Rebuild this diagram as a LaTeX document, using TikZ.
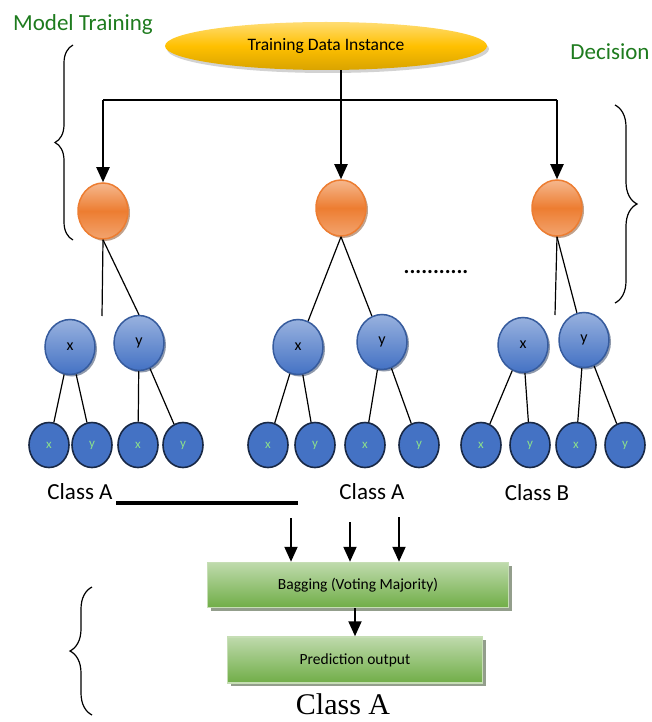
\documentclass[tikz,border=0pt]{standalone}
\usepackage{fontspec}
\setmainfont{Carlito}
\newfontfamily\timesfont{Liberation Serif}
\usetikzlibrary{arrows.meta,shapes.geometric,shadows,decorations.pathreplacing}
\definecolor{gold}{HTML}{FFC000}
\definecolor{orng}{HTML}{ED7D31}
\definecolor{blu}{HTML}{4472C4}
\definecolor{grn}{HTML}{70AD47}
\definecolor{titlegreen}{HTML}{1E7B1E}
\definecolor{leaftext}{HTML}{8CE08C}
\begin{document}
\begin{tikzpicture}[x=1pt,y=-1pt,
  every node/.style={font=\fontsize{17.5}{20}\selectfont},
  root/.style={ellipse,minimum width=322pt,minimum height=48pt,inner sep=0pt,
    top color=gold!55!white,bottom color=gold!85!black,middle color=gold,
    drop shadow={shadow xshift=2pt,shadow yshift=-3pt,fill=black!35}},
  split/.style={ellipse,minimum width=50pt,minimum height=56pt,inner sep=0pt,line width=1.5pt,draw=orng,
    top color=orng!55!white,bottom color=orng!70!white,middle color=orng,
    drop shadow={shadow xshift=2pt,shadow yshift=-2pt,fill=orng!55!black}},
  branch/.style={ellipse,minimum width=50pt,minimum height=55pt,inner sep=0pt,line width=1.5pt,draw=blu!80!black,
    top color=blu!55!white,bottom color=blu,
    drop shadow={shadow xshift=2pt,shadow yshift=-2pt,fill=blu!45!black},font=\fontsize{16}{19}\selectfont},
  leaf/.style={ellipse,minimum width=40pt,minimum height=45pt,inner sep=0pt,line width=1.6pt,draw=blu!35!black,
    fill=blu,text=leaftext,font=\fontsize{13}{15}\selectfont},
  vote/.style={rectangle,inner sep=0pt,line width=1.5pt,draw=grn!40!white,
    top color=grn!45!white,bottom color=grn,
    drop shadow={shadow xshift=3pt,shadow yshift=-3pt,fill=grn!35!black},font=\fontsize{15.5}{18}\selectfont},
  heading/.style={text=titlegreen,font=\fontsize{23}{27}\selectfont},
  classlbl/.style={font=\fontsize{23}{27}\selectfont},
  arr/.style={line width=2pt,-{Triangle[length=15pt,width=13pt]}},
  twig/.style={line width=1.2pt},
  curly/.style={line width=1.2pt,decorate}]
\useasboundingbox (0,0) rectangle (651,722);

% headings and the data source
\node[heading] (mt) at (83,24) {Model Training};
\node[heading] (dec) at (610,52) {Decision};
\node[root] (data) at (326,46) {Training Data Instance};

% trees
\node[split] (o1) at (103,211) {};
\node[split] (o2) at (341,208) {};
\node[split] (o3) at (557,208) {};
\node[branch] (x1) at (70,347) {x};
\node[branch] (y1) at (139,343) {y};
\node[branch] (x2) at (298,347) {x};
\node[branch] (y2) at (382,342) {y};
\node[branch] (x3) at (523,345) {x};
\node[branch] (y3) at (584,340) {y};
\foreach \n/\x/\t in {l1/49/x,l2/92/y,l3/138/x,l4/183/y,l5/268/x,l6/315/y,l7/365/x,l8/419/y,l9/481/x,l10/530/y,l11/576/x,l12/625/y}
  \node[leaf] (\n) at (\x,445) {\t};
\node[font=\fontsize{22}{26}\bfseries] (dots) at (436,272) {...........};

% feed from the data instance
\coordinate (barL) at (103,100);
\coordinate (barR) at (557,100);
\draw[line width=2pt] (barL) -- (barR);
\draw[line width=2pt] (o2 |- data.south) -- (o2 |- barL);
\foreach \n in {o1,o2,o3}
  \draw[arr] (\n |- barL) -- (\n.north);

% branches
\coordinate (s1) at (102,316);
\coordinate (s3) at (555,315);
\draw[twig] (o1.south) -- (s1);
\draw[twig] (o1.south) -- (y1.north);
\draw[twig] (o2.south) -- (x2);
\draw[twig] (o2.south) -- (y2);
\draw[twig] (o3.south) -- (s3);
\draw[twig] (o3.south) -- (y3);
\foreach \p/\a/\b in {x1/l1/l2,y1/l3/l4,x2/l5/l6,y2/l7/l8,x3/l9/l10,y3/l11/l12}
  \draw[twig] (\p) -- (\a) (\p) -- (\b);

% class labels
\node[classlbl] (cA1) at (80,492) {Class A};
\node[classlbl] (cA2) at (372,492) {Class A};
\node[classlbl] (cB) at (537,493) {Class B};
\coordinate (barEnd) at (298,503);
\draw[line width=4pt] (cA1.east |- barEnd) -- (barEnd);

% voting
\node[vote,minimum width=301pt,minimum height=45pt] (bag) at (358,585) {Bagging (Voting Majority)};
\node[vote,minimum width=255pt,minimum height=46pt] (pred) at (355,660) {Prediction output};
\foreach \x/\y in {291/518,350/522,399/517}
  \draw[arr] (\x,\y) coordinate (v) -- (v |- bag.north);
\draw[arr] (pred.north |- bag.south) -- (pred.north);
\node[font=\timesfont\fontsize{30}{33}\selectfont,anchor=base] (out) at (343,714) {Class A};

% braces
\draw[curly,decoration={brace,amplitude=18pt}] (73,240) -- (73,45);
\draw[curly,decoration={brace,amplitude=22pt}] (615,105) -- (615,303);
\draw[curly,decoration={brace,amplitude=22pt}] (92,715) -- (92,587);
\end{tikzpicture}
\end{document}
